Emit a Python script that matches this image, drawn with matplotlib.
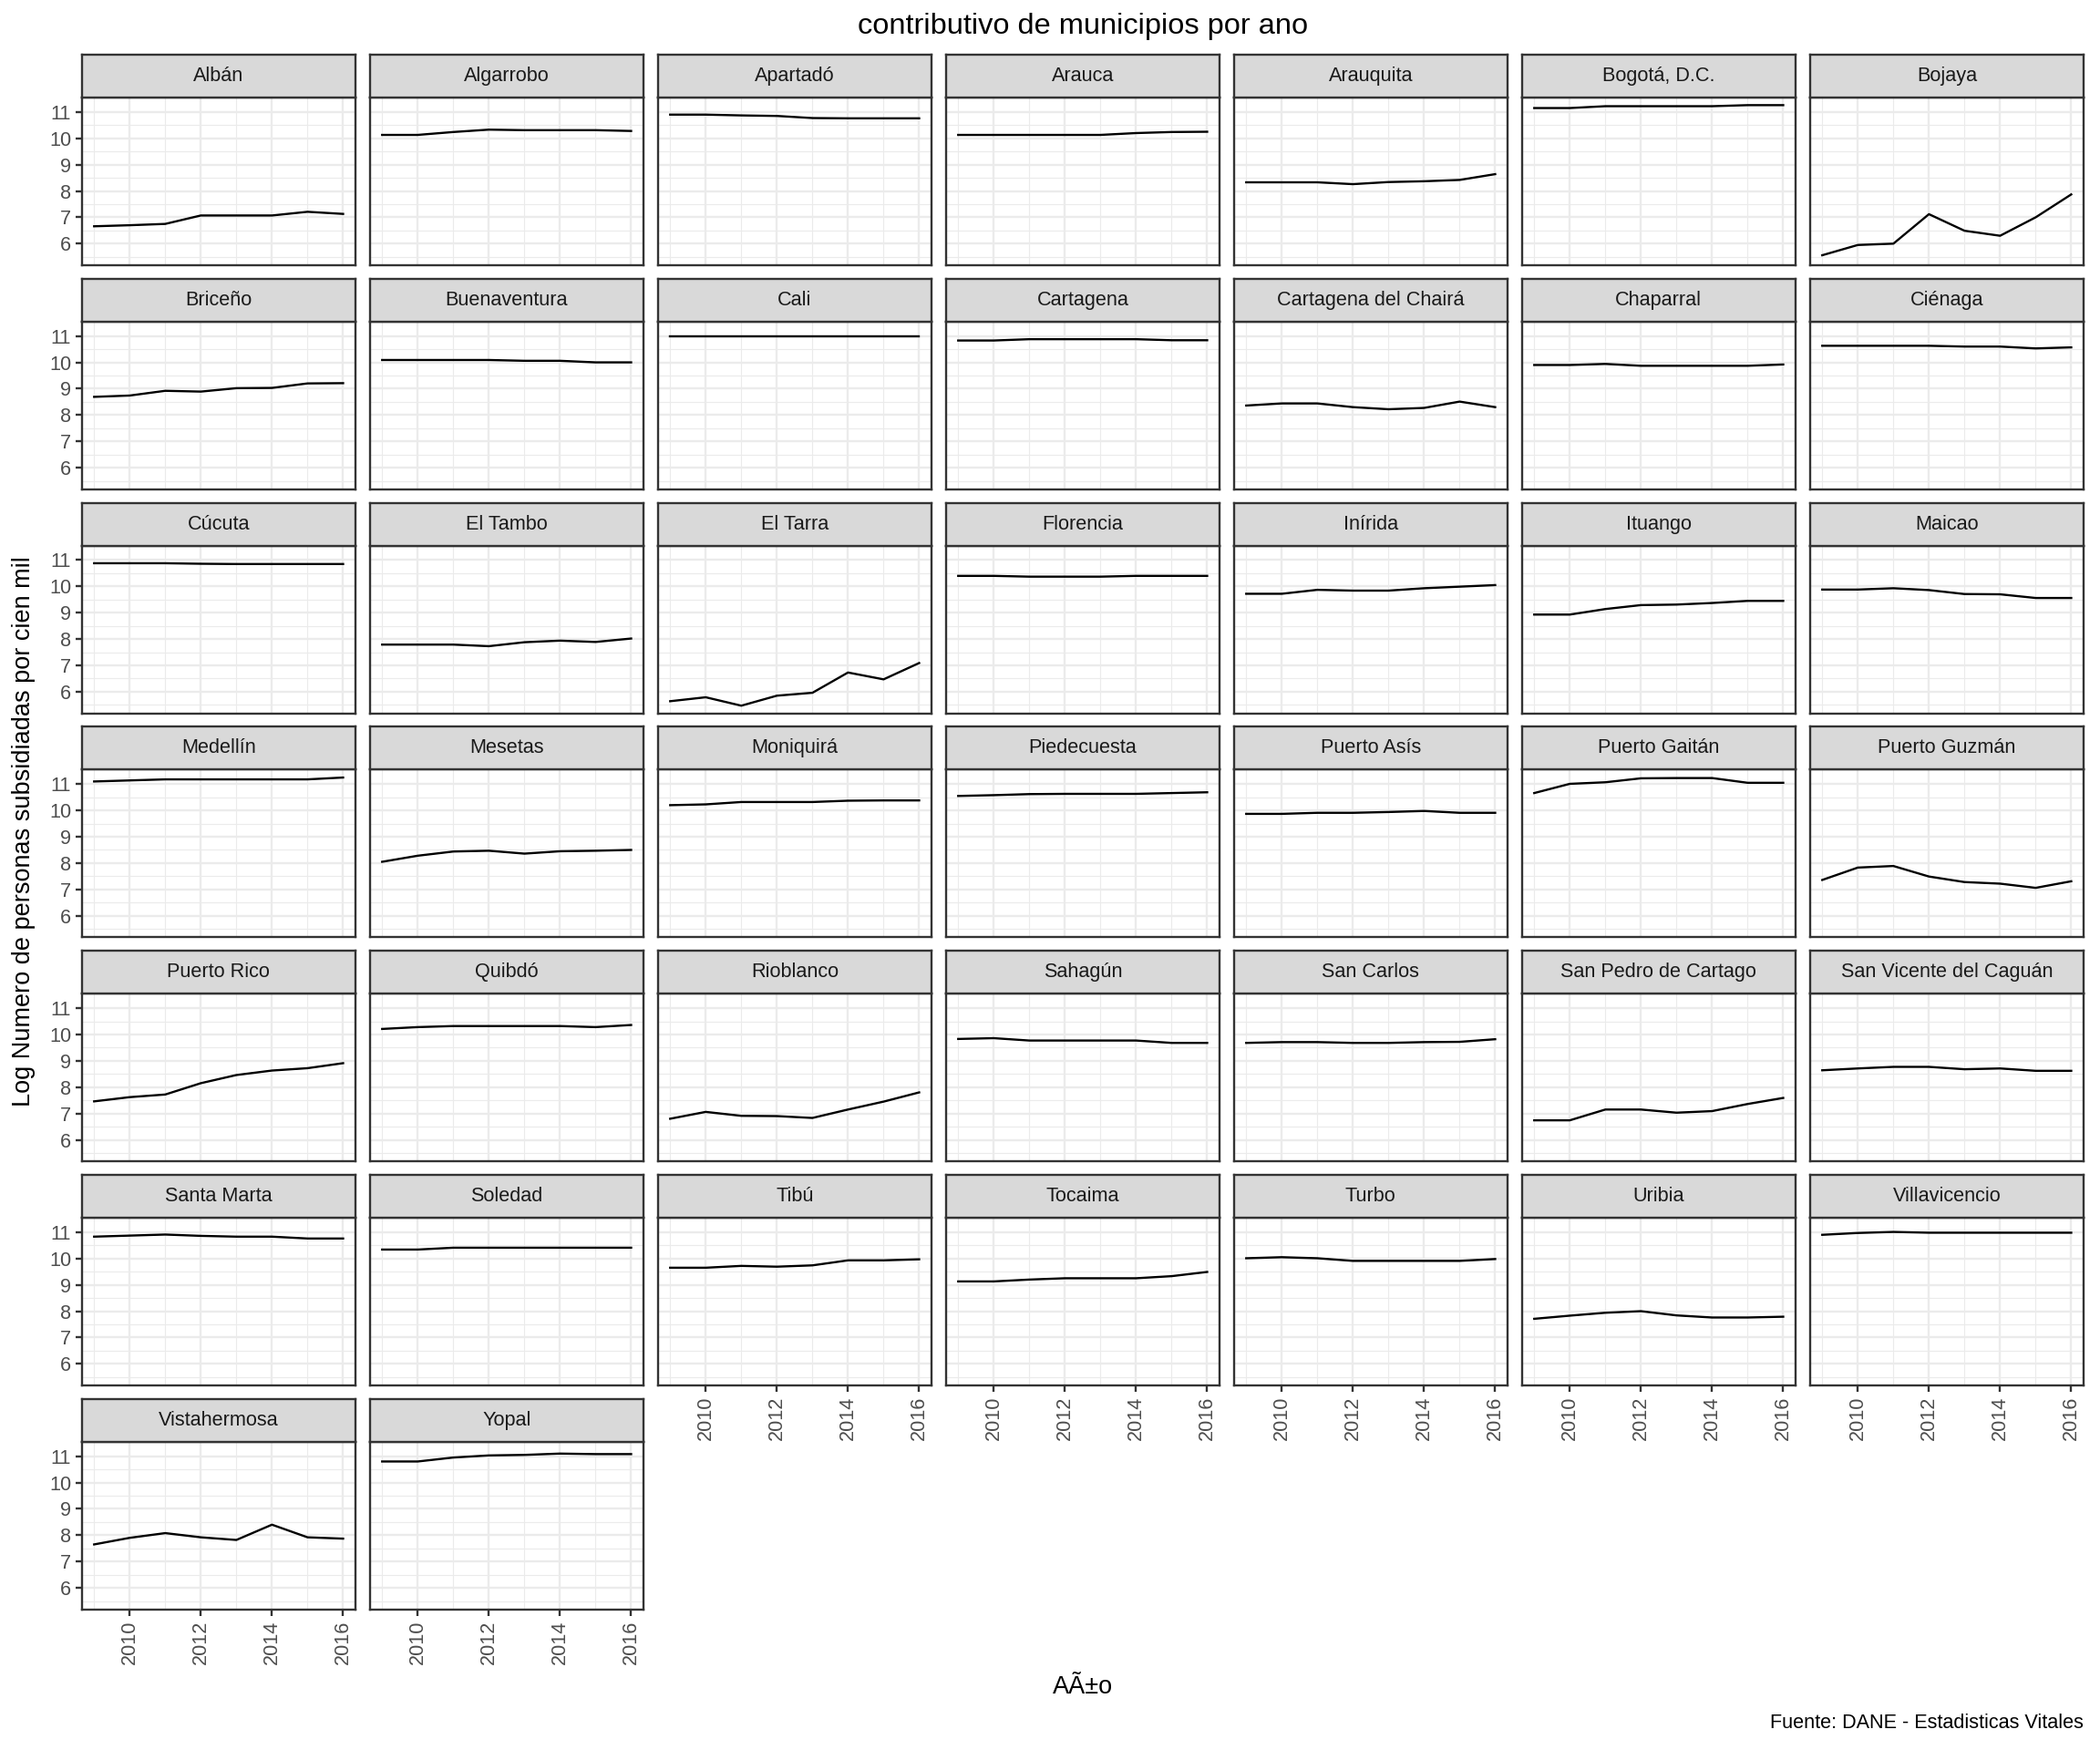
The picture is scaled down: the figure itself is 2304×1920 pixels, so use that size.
import numpy as np
import matplotlib
matplotlib.use("Agg")
import matplotlib.pyplot as plt

plt.rcParams['font.family'] = ['Liberation Sans', 'DejaVu Sans']

anios = [2009, 2010, 2011, 2012, 2013, 2014, 2015, 2016]

# log numero de personas subsidiadas por cien mil
alban = [6.66, 6.70, 6.75, 7.07, 7.07, 7.07, 7.21, 7.13]
algarrobo = [10.13, 10.13, 10.24, 10.33, 10.31, 10.31, 10.31, 10.28]
apartado = [10.90, 10.90, 10.87, 10.85, 10.77, 10.76, 10.76, 10.76]
arauca = [10.13, 10.13, 10.13, 10.13, 10.13, 10.20, 10.24, 10.25]
arauquita = [8.33, 8.33, 8.33, 8.26, 8.34, 8.37, 8.42, 8.64]
bogota = [11.15, 11.15, 11.22, 11.22, 11.22, 11.22, 11.26, 11.26]
bojaya = [5.56, 5.95, 6.00, 7.12, 6.49, 6.30, 7.00, 7.87]
briceno = [8.69, 8.74, 8.92, 8.89, 9.02, 9.03, 9.20, 9.21]
buenaventura = [10.09, 10.09, 10.09, 10.09, 10.06, 10.06, 10.00, 10.00]
cali = [11.00, 11.00, 11.00, 11.00, 11.00, 11.00, 11.00, 11.00]
cartagena = [10.83, 10.83, 10.88, 10.88, 10.88, 10.88, 10.84, 10.84]
cartagena_chaira = [8.36, 8.44, 8.44, 8.30, 8.22, 8.27, 8.51, 8.30]
chaparral = [9.90, 9.90, 9.94, 9.87, 9.87, 9.87, 9.87, 9.92]
cienaga = [10.63, 10.63, 10.63, 10.63, 10.60, 10.60, 10.53, 10.57]
cucuta = [10.88, 10.88, 10.88, 10.86, 10.85, 10.85, 10.85, 10.85]
el_tambo = [7.79, 7.79, 7.79, 7.73, 7.88, 7.94, 7.89, 8.02]
el_tarra = [5.64, 5.79, 5.47, 5.85, 5.96, 6.73, 6.47, 7.09]
florencia = [10.40, 10.40, 10.37, 10.37, 10.37, 10.40, 10.40, 10.40]
inirida = [9.72, 9.72, 9.87, 9.84, 9.84, 9.93, 9.99, 10.05]
ituango = [8.93, 8.93, 9.14, 9.29, 9.31, 9.37, 9.45, 9.45]
maicao = [9.88, 9.88, 9.93, 9.86, 9.71, 9.70, 9.56, 9.56]
medellin = [11.10, 11.14, 11.18, 11.18, 11.18, 11.18, 11.18, 11.25]
mesetas = [8.05, 8.28, 8.44, 8.47, 8.36, 8.45, 8.47, 8.50]
moniquira = [10.20, 10.23, 10.32, 10.32, 10.32, 10.37, 10.38, 10.38]
piedecuesta = [10.55, 10.58, 10.62, 10.63, 10.63, 10.63, 10.66, 10.69]
puerto_asis = [9.87, 9.87, 9.91, 9.91, 9.94, 9.98, 9.91, 9.91]
puerto_gaitan = [10.66, 11.01, 11.07, 11.22, 11.23, 11.23, 11.05, 11.05]
puerto_guzman = [7.36, 7.83, 7.89, 7.49, 7.28, 7.22, 7.06, 7.31]
puerto_rico = [7.46, 7.62, 7.72, 8.15, 8.46, 8.63, 8.72, 8.91]
quibdo = [10.21, 10.28, 10.32, 10.32, 10.32, 10.32, 10.28, 10.36]
rioblanco = [6.80, 7.06, 6.91, 6.90, 6.83, 7.15, 7.45, 7.80]
sahagun = [9.83, 9.86, 9.77, 9.77, 9.77, 9.77, 9.68, 9.68]
san_carlos = [9.68, 9.71, 9.71, 9.68, 9.68, 9.71, 9.72, 9.82]
san_pedro = [6.74, 6.74, 7.15, 7.15, 7.03, 7.09, 7.36, 7.59]
san_vicente = [8.64, 8.71, 8.77, 8.77, 8.68, 8.71, 8.62, 8.62]
santa_marta = [10.83, 10.87, 10.91, 10.86, 10.83, 10.83, 10.76, 10.76]
soledad = [10.34, 10.34, 10.41, 10.41, 10.41, 10.41, 10.41, 10.41]
tibu = [9.65, 9.65, 9.72, 9.69, 9.74, 9.93, 9.93, 9.97]
tocaima = [9.13, 9.13, 9.20, 9.25, 9.25, 9.25, 9.33, 9.49]
turbo = [10.01, 10.05, 10.01, 9.91, 9.91, 9.91, 9.91, 9.98]
uribia = [7.71, 7.83, 7.94, 8.00, 7.84, 7.76, 7.76, 7.79]
villavicencio = [10.90, 10.97, 11.01, 10.98, 10.98, 10.98, 10.98, 10.98]
vistahermosa = [7.65, 7.90, 8.08, 7.92, 7.82, 8.40, 7.92, 7.87]
yopal = [10.80, 10.80, 10.95, 11.03, 11.05, 11.10, 11.08, 11.08]

municipios = ["Albán", "Algarrobo", "Apartadó", "Arauca", "Arauquita", "Bogotá, D.C.", "Bojaya",
              "Briceño", "Buenaventura", "Cali", "Cartagena", "Cartagena del Chairá", "Chaparral", "Ciénaga",
              "Cúcuta", "El Tambo", "El Tarra", "Florencia", "Inírida", "Ituango", "Maicao",
              "Medellín", "Mesetas", "Moniquirá", "Piedecuesta", "Puerto Asís", "Puerto Gaitán", "Puerto Guzmán",
              "Puerto Rico", "Quibdó", "Rioblanco", "Sahagún", "San Carlos", "San Pedro de Cartago", "San Vicente del Caguán",
              "Santa Marta", "Soledad", "Tibú", "Tocaima", "Turbo", "Uribia", "Villavicencio",
              "Vistahermosa", "Yopal"]
series = [alban, algarrobo, apartado, arauca, arauquita, bogota, bojaya,
          briceno, buenaventura, cali, cartagena, cartagena_chaira, chaparral, cienaga,
          cucuta, el_tambo, el_tarra, florencia, inirida, ituango, maicao,
          medellin, mesetas, moniquira, piedecuesta, puerto_asis, puerto_gaitan, puerto_guzman,
          puerto_rico, quibdo, rioblanco, sahagun, san_carlos, san_pedro, san_vicente,
          santa_marta, soledad, tibu, tocaima, turbo, uribia, villavicencio,
          vistahermosa, yopal]

W, H = 2304, 1920
fig = plt.figure(figsize=(W / 100, H / 100), dpi=100)
fig.patch.set_facecolor('white')

ncol = 7
n = len(municipios)

# rango comun (expansion 5% como ggplot)
todos = np.concatenate([np.array(s) for s in series])
ymin, ymax = todos.min(), todos.max()
ypad = (ymax - ymin) * 0.05
xpad = (anios[-1] - anios[0]) * 0.05

left0, colstep, pw = 89.6, 316.0, 300.5
top0, rowstep, sh, ph = 60.0, 245.8, 47.0, 184.0

txt_size = 15.6
grey_txt = '#4D4D4D'
border = '#333333'

for i, (nombre, vals) in enumerate(zip(municipios, series)):
    r, c = divmod(i, ncol)
    x0 = left0 + c * colstep
    strip_top = top0 + r * rowstep
    panel_top = strip_top + sh
    ax = fig.add_axes([x0 / W, 1 - (panel_top + ph) / H, pw / W, ph / H])
    st = fig.add_axes([x0 / W, 1 - panel_top / H, pw / W, sh / H])

    ax.plot(anios, vals, color='black', lw=1.7, zorder=3)
    ax.set_xlim(anios[0] - xpad, anios[-1] + xpad)
    ax.set_ylim(ymin - ypad, ymax + ypad)
    ax.set_xticks([2010, 2012, 2014, 2016])
    ax.set_xticks([2009, 2011, 2013, 2015], minor=True)
    ax.set_yticks([6, 7, 8, 9, 10, 11])
    ax.set_yticks([5.5, 6.5, 7.5, 8.5, 9.5, 10.5], minor=True)
    ax.grid(which='major', color='#EBEBEB', lw=1.7, zorder=0)
    ax.grid(which='minor', color='#EBEBEB', lw=0.85, zorder=0)
    ax.set_axisbelow(True)
    for sp in ax.spines.values():
        sp.set_color(border)
        sp.set_linewidth(1.7)
    ax.tick_params(which='minor', length=0)
    ax.tick_params(which='major', color=border, width=1.7, length=4.8, pad=3.5,
                   labelcolor=grey_txt, labelsize=txt_size)

    # etiquetas solo en los bordes
    bottom = (i + ncol >= n)
    if not bottom:
        ax.tick_params(axis='x', which='major', length=0, labelbottom=False)
    else:
        ax.set_xticklabels([str(a) for a in [2010, 2012, 2014, 2016]], rotation=90, va='top', ha='center')
    if c != 0:
        ax.tick_params(axis='y', which='major', length=0, labelleft=False)

    st.set_facecolor('#D9D9D9')
    st.set_xticks([])
    st.set_yticks([])
    for sp in st.spines.values():
        sp.set_color(border)
        sp.set_linewidth(1.7)
    st.text(0.5, 0.5, nombre, ha='center', va='center', fontsize=txt_size,
            color='#1A1A1A', transform=st.transAxes)

cx = (left0 + (ncol - 1) * colstep + pw + left0) / 2
fig.text(cx / W, 1 - 29 / H, "contributivo de municipios por ano", ha='center', va='center',
         fontsize=23.4, color='black')
fig.text(26 / W, 1 - 912 / H, "Log Numero de personas subsidiadas por cien mil", rotation=90,
         ha='center', va='center', fontsize=19.5, color='black')
fig.text(cx / W, 1 - 1851 / H, "AÃ±o", ha='center', va='center', fontsize=19.5, color='black')
fig.text((left0 + (ncol - 1) * colstep + pw) / W, 1 - 1891 / H, "Fuente: DANE - Estadisticas Vitales",
         ha='right', va='center', fontsize=15.6, color='black')

fig.savefig("out.png", dpi=100)
